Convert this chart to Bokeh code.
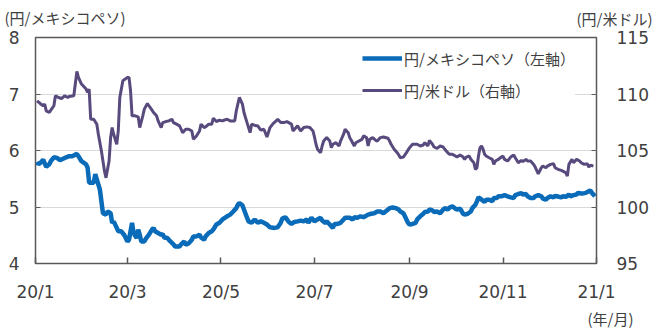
import pandas as pd
from bokeh.plotting import figure
from bokeh.models import (Range1d, LinearAxis, FixedTicker, Legend, LegendItem, Title)
from bokeh.embed import file_html
from bokeh.resources import INLINE

# ---------------- data ----------------
BASE = "2020-01-01"  # day offsets below are counted from this date

usd_days = [1, 3, 5, 6, 7, 9, 10, 12, 13, 15,
            17, 19, 21, 22, 25, 27, 28, 30, 33, 34,
            35, 36, 38, 40, 41, 43, 45, 46, 48, 49,
            50, 51, 53, 54, 55, 57, 60, 61, 62, 63,
            65, 67, 68, 70, 71, 73, 74, 76, 77, 79,
            80, 82, 83, 85, 87, 89, 90, 92, 94, 95,
            96, 98, 100, 102, 103, 105, 107, 108, 110, 111,
            113, 115, 116, 118, 120, 122, 123, 125, 127, 130,
            131, 132, 133, 135, 136, 138, 140, 141, 144, 145,
            147, 149, 151, 153, 155, 157, 158, 160, 162, 164,
            167, 168, 170, 171, 173, 175, 177, 179, 181, 182,
            183, 184, 186, 187, 188, 190, 192, 193, 194, 196,
            198, 199, 201, 202, 204, 205, 206, 208, 209, 211,
            213, 214, 216, 217, 218, 220, 222, 223, 225, 227,
            230, 231, 232, 234, 236, 237, 238, 240, 242, 244,
            246, 248, 249, 251, 253, 254, 256, 257, 259, 260,
            262, 264, 266, 267, 269, 270, 272, 274, 275, 277,
            279, 280, 281, 283, 284, 286, 287, 288, 289, 290,
            291, 292, 293, 294, 296, 298, 299, 300, 302, 304,
            305, 306, 308, 310, 312, 313, 315, 317, 318, 320,
            321, 323, 325, 326, 328, 330, 331, 333, 334, 336,
            338, 339, 341, 343, 344, 346, 347, 348, 350, 351,
            353, 355, 356, 358, 360, 361, 362, 364]
usd_jpy = [109.40, 109.16, 108.96, 109.11, 108.51, 108.36, 108.57, 108.96, 109.84, 109.69,
           109.60, 109.84, 109.69, 109.78, 109.84, 112.00, 111.47, 110.88, 110.44, 110.14,
           110.44, 107.77, 107.77, 107.33, 106.44, 104.96, 103.18, 102.58, 104.07, 106.14,
           107.03, 106.44, 105.55, 106.73, 109.69, 111.18, 111.47, 111.47, 110.29, 108.07,
           108.07, 107.98, 107.03, 108.07, 108.66, 109.16, 108.96, 108.57, 108.36, 108.07,
           107.62, 107.03, 107.47, 107.56, 107.62, 107.77, 107.47, 107.33, 107.18, 106.88,
           106.58, 106.88, 106.88, 106.73, 106.00, 106.29, 106.73, 107.33, 107.03, 107.09,
           107.33, 107.33, 107.86, 107.56, 107.68, 107.62, 107.68, 107.77, 107.62, 107.62,
           108.51, 109.11, 109.69, 109.11, 108.36, 107.47, 106.58, 107.33, 107.18, 107.18,
           106.80, 106.88, 106.20, 107.03, 107.38, 107.62, 107.77, 107.47, 107.47, 107.56,
           107.33, 106.73, 107.03, 107.18, 106.73, 107.03, 107.09, 107.03, 106.73, 106.20,
           105.55, 105.11, 104.81, 105.40, 105.84, 106.14, 105.84, 105.25, 105.55, 105.69,
           105.40, 105.84, 106.44, 106.88, 106.58, 106.14, 105.90, 105.40, 105.69, 105.84,
           105.99, 106.29, 106.14, 105.40, 105.99, 106.14, 105.90, 105.84, 106.14, 106.20,
           106.08, 105.84, 105.55, 105.11, 104.81, 104.60, 104.36, 104.42, 104.81, 105.25,
           105.55, 105.55, 105.55, 105.40, 105.49, 105.69, 105.40, 105.90, 105.55, 105.31,
           105.19, 105.40, 105.31, 105.11, 104.81, 104.66, 104.66, 104.51, 104.42, 104.60,
           104.42, 104.22, 104.42, 104.51, 104.22, 103.92, 103.33, 103.47, 104.51, 105.25,
           105.40, 105.11, 104.66, 104.51, 104.36, 104.22, 103.77, 104.07, 104.22, 104.42,
           104.51, 104.22, 104.07, 104.42, 104.60, 104.36, 103.92, 104.13, 104.01, 104.22,
           104.07, 104.07, 103.77, 103.53, 102.94, 103.47, 103.62, 103.47, 103.62, 103.77,
           103.82, 103.47, 103.33, 103.24, 103.18, 103.03, 102.73, 103.77, 104.22, 103.92,
           104.22, 104.07, 103.92, 103.77, 103.82, 103.53, 103.71, 103.62]

mxn_days = [1, 2, 4, 5, 7, 9, 10, 12, 14, 16,
            18, 20, 22, 24, 27, 28, 30, 33, 34, 35,
            38, 39, 40, 42, 43, 44, 46, 47, 49, 50,
            51, 53, 54, 56, 58, 60, 61, 63, 64, 66,
            67, 68, 69, 71, 72, 74, 76, 77, 78, 80,
            82, 83, 84, 86, 88, 90, 91, 94, 95, 97,
            98, 100, 102, 103, 105, 107, 108, 110, 111, 113,
            115, 116, 118, 120, 122, 125, 127, 129, 131, 132,
            133, 135, 136, 138, 139, 141, 143, 145, 147, 149,
            151, 153, 156, 158, 160, 161, 163, 165, 167, 169,
            171, 173, 175, 177, 178, 180, 182, 184, 186, 187,
            189, 190, 192, 194, 195, 197, 199, 201, 202, 205,
            207, 208, 210, 212, 214, 217, 219, 221, 223, 225,
            227, 230, 231, 233, 235, 237, 238, 240, 241, 243,
            244, 246, 248, 249, 251, 253, 254, 256, 257, 259,
            260, 262, 264, 266, 267, 269, 270, 272, 274, 275,
            277, 279, 280, 282, 284, 285, 287, 288, 289, 291,
            293, 294, 296, 298, 299, 301, 302, 304, 306, 308,
            310, 312, 313, 315, 317, 318, 320, 321, 323, 325,
            326, 328, 330, 331, 333, 334, 336, 338, 339, 341,
            343, 344, 346, 348, 349, 351, 353, 354, 356, 358,
            359, 361, 362, 363, 365]
mxn_jpy = [5.80, 5.755, 5.80, 5.84, 5.71, 5.755, 5.81, 5.88, 5.87, 5.83,
           5.855, 5.88, 5.90, 5.90, 5.94, 5.90, 5.81, 5.755, 5.695, 5.43,
           5.43, 5.58, 5.49, 5.31, 5.10, 4.89, 4.865, 4.92, 4.89, 4.72,
           4.745, 4.63, 4.57, 4.57, 4.50, 4.39, 4.42, 4.72, 4.54, 4.45,
           4.60, 4.51, 4.39, 4.39, 4.44, 4.51, 4.60, 4.63, 4.57, 4.54,
           4.51, 4.52, 4.46, 4.45, 4.39, 4.34, 4.30, 4.30, 4.34, 4.39,
           4.33, 4.36, 4.42, 4.48, 4.48, 4.51, 4.46, 4.42, 4.48, 4.54,
           4.57, 4.60, 4.69, 4.72, 4.78, 4.835, 4.865, 4.92, 4.98, 5.04,
           5.07, 5.03, 4.955, 4.81, 4.745, 4.72, 4.78, 4.72, 4.745, 4.72,
           4.69, 4.64, 4.63, 4.64, 4.72, 4.795, 4.82, 4.745, 4.70, 4.735,
           4.745, 4.76, 4.745, 4.78, 4.72, 4.81, 4.745, 4.78, 4.81, 4.76,
           4.72, 4.745, 4.69, 4.63, 4.70, 4.70, 4.72, 4.78, 4.81, 4.81,
           4.78, 4.82, 4.81, 4.835, 4.82, 4.865, 4.88, 4.89, 4.92, 4.92,
           4.89, 4.955, 4.98, 4.99, 4.98, 4.955, 4.92, 4.89, 4.835, 4.72,
           4.69, 4.70, 4.72, 4.78, 4.835, 4.88, 4.91, 4.92, 4.955, 4.94,
           4.91, 4.92, 4.89, 4.955, 4.98, 4.955, 4.99, 5.01, 4.97, 4.955,
           4.97, 4.88, 4.865, 4.88, 4.92, 4.98, 5.04, 5.10, 5.17, 5.13,
           5.09, 5.13, 5.13, 5.10, 5.16, 5.16, 5.19, 5.19, 5.21, 5.19,
           5.17, 5.16, 5.21, 5.23, 5.245, 5.22, 5.23, 5.19, 5.16, 5.16,
           5.19, 5.21, 5.19, 5.15, 5.13, 5.16, 5.19, 5.17, 5.195, 5.185,
           5.17, 5.19, 5.18, 5.22, 5.19, 5.21, 5.22, 5.25, 5.24, 5.245,
           5.25, 5.28, 5.29, 5.25, 5.19]

tick_dates = ["2020-01-01", "2020-03-01", "2020-05-01", "2020-07-01",
              "2020-09-01", "2020-11-01", "2021-01-01"]
tick_labels = ["20/1", "20/3", "20/5", "20/7", "20/9", "20/11", "21/1"]
left_ticks = [4, 5, 6, 7, 8]
right_ticks = [95, 100, 105, 110, 115]

name_mxn = "円/メキシコペソ（左軸）"
name_usd = "円/米ドル（右軸）"
unit_left = "(円/メキシコペソ)"
unit_right = "(円/米ドル)"
unit_x = "(年/月)"

# ---------------- style ----------------
BLUE = "#0A6BB8"
PURPLE = "#594A7E"
TXT = "#404040"
NUM_FONT = "DejaVu Sans"
JP_FONT = "Noto Sans CJK JP"

base = pd.Timestamp(BASE)
usd_dates = base + pd.to_timedelta(usd_days, unit="D")
mxn_dates = base + pd.to_timedelta(mxn_days, unit="D")

def ms(d):
    return int(pd.Timestamp(d).value // 10**6)

x_start = pd.Timestamp(tick_dates[0])
x_end = pd.Timestamp(tick_dates[-1])

p = figure(width=659, height=329, x_axis_type="datetime",
           x_range=Range1d(x_start, x_end), y_range=Range1d(4, 8),
           output_backend="svg", toolbar_location=None,
           min_border_left=35, min_border_right=63,
           min_border_top=37, min_border_bottom=66)
p.extra_y_ranges = {"usd": Range1d(95, 115)}
p.background_fill_color = "white"
p.border_fill_color = "white"
p.outline_line_color = "#595959"
p.outline_line_width = 1.5

# grid
p.xgrid.grid_line_color = None
p.ygrid.grid_line_color = "#D9D9D9"
p.ygrid.grid_line_width = 1

# x axis
xa = p.xaxis[0]
xa.ticker = FixedTicker(ticks=[ms(d) for d in tick_dates])
xa.major_label_overrides = {ms(d): l for d, l in zip(tick_dates, tick_labels)}
xa.major_tick_in = 6
xa.major_tick_out = 0
xa.minor_tick_line_color = None
xa.major_tick_line_color = "#595959"
xa.major_tick_line_width = 1.5
xa.axis_line_color = None
xa.major_label_text_font = NUM_FONT
xa.major_label_text_font_size = "17px"
xa.major_label_text_color = TXT
xa.major_label_standoff = 18

# left axis
ya = p.yaxis[0]
ya.ticker = FixedTicker(ticks=left_ticks)
ya.major_tick_in = 5
ya.major_tick_out = 0
ya.minor_tick_line_color = None
ya.major_tick_line_color = "#595959"
ya.axis_line_color = None
ya.major_label_text_font = NUM_FONT
ya.major_label_text_font_size = "17px"
ya.major_label_text_color = TXT
ya.major_label_standoff = 16

# right axis
ra = LinearAxis(y_range_name="usd", ticker=FixedTicker(ticks=right_ticks))
ra.major_tick_in = 5
ra.major_tick_out = 0
ra.minor_tick_line_color = None
ra.major_tick_line_color = "#595959"
ra.axis_line_color = None
ra.major_label_text_font = NUM_FONT
ra.major_label_text_font_size = "17px"
ra.major_label_text_color = TXT
ra.major_label_standoff = 20
p.add_layout(ra, "right")

# lines
r_usd = p.line(usd_dates, usd_jpy, y_range_name="usd", line_color=PURPLE, line_width=3)
r_mxn = p.line(mxn_dates, mxn_jpy, line_color=BLUE, line_width=4.5)

legend = Legend(items=[LegendItem(label=name_mxn, renderers=[r_mxn]),
                       LegendItem(label=name_usd, renderers=[r_usd])],
                location=(327, 161), glyph_width=40, glyph_height=24,
                label_height=24, label_standoff=2, spacing=8, padding=4, margin=0,
                border_line_color=None, background_fill_color="white",
                background_fill_alpha=1.0,
                label_text_font=JP_FONT, label_text_font_size="15px",
                label_text_color=TXT)
p.add_layout(legend, "center")

# unit labels (titles in the side panels; the later-added title fills the top
# border, the earlier one has zero height and hangs up into the same row)
p.add_layout(Title(text=unit_left, align="left", offset=-31, standoff=-61,
                   vertical_align="top",
                   text_font=JP_FONT, text_font_size="15px", text_font_style="normal",
                   text_color=TXT), "above")
p.add_layout(Title(text=unit_right, align="left", offset=541, standoff=13,
                   vertical_align="top",
                   text_font=JP_FONT, text_font_size="15px", text_font_style="normal",
                   text_color=TXT), "above")
p.add_layout(Title(text=unit_x, align="right", offset=-37, standoff=2,
                   text_font=JP_FONT, text_font_size="15px", text_font_style="normal",
                   text_color=TXT), "below")

open("out.html", "w").write(file_html(p, INLINE))
